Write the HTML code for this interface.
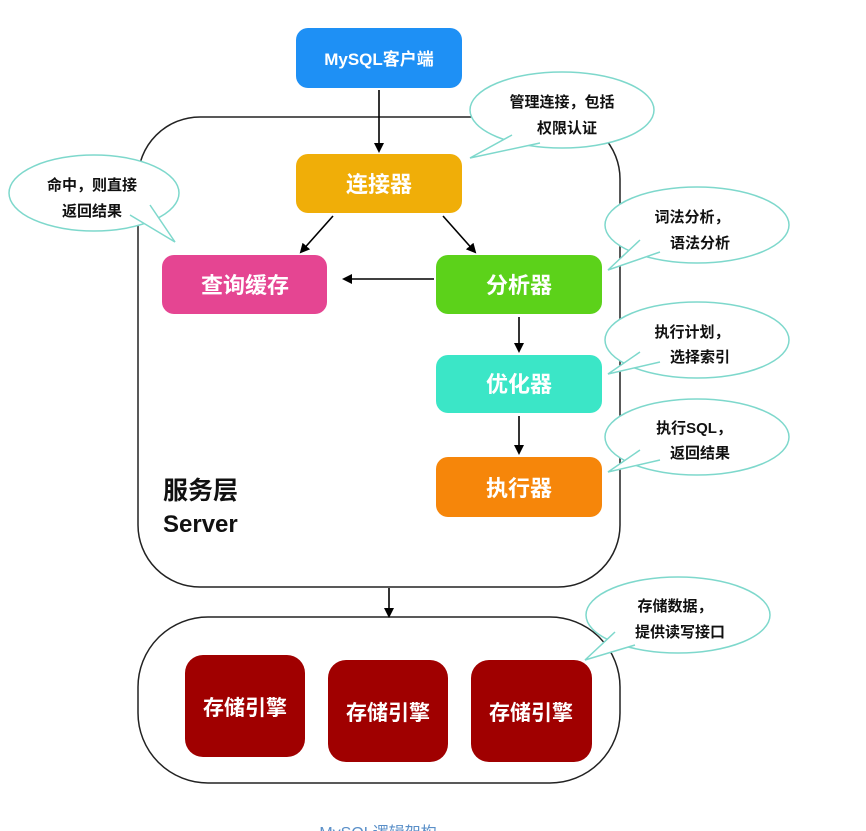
<!DOCTYPE html>
<html><head><meta charset="utf-8"><style>
html,body{margin:0;padding:0;background:#fff;}
svg{display:block;}
text{font-family:"Liberation Sans","Noto Sans CJK SC",sans-serif;}
</style></head><body>
<svg width="866" height="831" viewBox="0 0 866 831" xmlns="http://www.w3.org/2000/svg">
<defs>
<marker id="a" markerWidth="10" markerHeight="10" refX="8" refY="5" orient="auto" markerUnits="userSpaceOnUse">
<path d="M0,0 L10,5 L0,10 z" fill="#000"/></marker>
</defs>
<!-- containers -->
<rect x="138" y="117" width="482" height="470" rx="62" fill="none" stroke="#222" stroke-width="1.5"/>
<rect x="138" y="617" width="482" height="166" rx="70" fill="none" stroke="#222" stroke-width="1.5"/>

<!-- bubbles -->
<g fill="#fff" stroke="#7ed8cc" stroke-width="1.5">
<ellipse cx="562" cy="110" rx="92" ry="38"/>
<path d="M512,135 L470,158 L540,143"/>
<ellipse cx="94" cy="193" rx="85" ry="38"/>
<path d="M130,215 L175,242 L150,205"/>
<ellipse cx="697" cy="225" rx="92" ry="38"/>
<path d="M640,240 L608,270 L660,252"/>
<ellipse cx="697" cy="340" rx="92" ry="38"/>
<path d="M640,352 L608,374 L660,362"/>
<ellipse cx="697" cy="437" rx="92" ry="38"/>
<path d="M640,450 L608,472 L660,460"/>
<ellipse cx="678" cy="615" rx="92" ry="38"/>
<path d="M615,632 L585,660 L635,645"/>
</g>
<g font-size="15" font-weight="bold" fill="#111" text-anchor="middle">
<text x="562" y="107">管理连接，包括</text><text x="567" y="133">权限认证</text>
<text x="92" y="190">命中，则直接</text><text x="92" y="216">返回结果</text>
<text x="692" y="222">词法分析，</text><text x="700" y="248">语法分析</text>
<text x="692" y="337">执行计划，</text><text x="700" y="362">选择索引</text>
<text x="694" y="433">执行SQL，</text><text x="700" y="458">返回结果</text>
<text x="675" y="611">存储数据，</text><text x="680" y="637">提供读写接口</text>
</g>

<!-- nodes -->
<rect x="296" y="28" width="166" height="60" rx="12" fill="#1e90f5"/>
<rect x="296" y="154" width="166" height="59" rx="12" fill="#f0ae08"/>
<rect x="162" y="255" width="165" height="59" rx="12" fill="#e54592"/>
<rect x="436" y="255" width="166" height="59" rx="12" fill="#5cd21a"/>
<rect x="436" y="355" width="166" height="58" rx="12" fill="#3be6c7"/>
<rect x="436" y="457" width="166" height="60" rx="12" fill="#f6860a"/>
<rect x="185" y="655" width="120" height="102" rx="18" fill="#a00000"/>
<rect x="328" y="660" width="120" height="102" rx="18" fill="#a00000"/>
<rect x="471" y="660" width="121" height="102" rx="18" fill="#a00000"/>

<g fill="#fff" text-anchor="middle" font-weight="bold">
<text x="379" y="65" font-size="17">MySQL客户端</text>
<text x="379" y="192" font-size="22">连接器</text>
<text x="245" y="293" font-size="22">查询缓存</text>
<text x="519" y="293" font-size="22">分析器</text>
<text x="519" y="392" font-size="22">优化器</text>
<text x="519" y="496" font-size="22">执行器</text>
<text x="245" y="715" font-size="21">存储引擎</text>
<text x="388" y="720" font-size="21">存储引擎</text>
<text x="531" y="720" font-size="21">存储引擎</text>
</g>

<text x="163" y="499" font-size="25" font-weight="bold" fill="#111">服务层</text>
<text x="163" y="532" font-size="24" font-weight="bold" fill="#111">Server</text>

<!-- arrows -->
<g stroke="#000" stroke-width="1.6" marker-end="url(#a)">
<line x1="379" y1="90" x2="379" y2="151"/>
<line x1="333" y1="216" x2="301" y2="252"/>
<line x1="443" y1="216" x2="475" y2="252"/>
<line x1="434" y1="279" x2="344" y2="279"/>
<line x1="519" y1="317" x2="519" y2="351"/>
<line x1="519" y1="416" x2="519" y2="453"/>
<line x1="389" y1="588" x2="389" y2="616"/>
</g>
<text x="378" y="838" font-size="16" fill="#5a8fc8" text-anchor="middle">MySQL逻辑架构</text>
</svg>
</body></html>
